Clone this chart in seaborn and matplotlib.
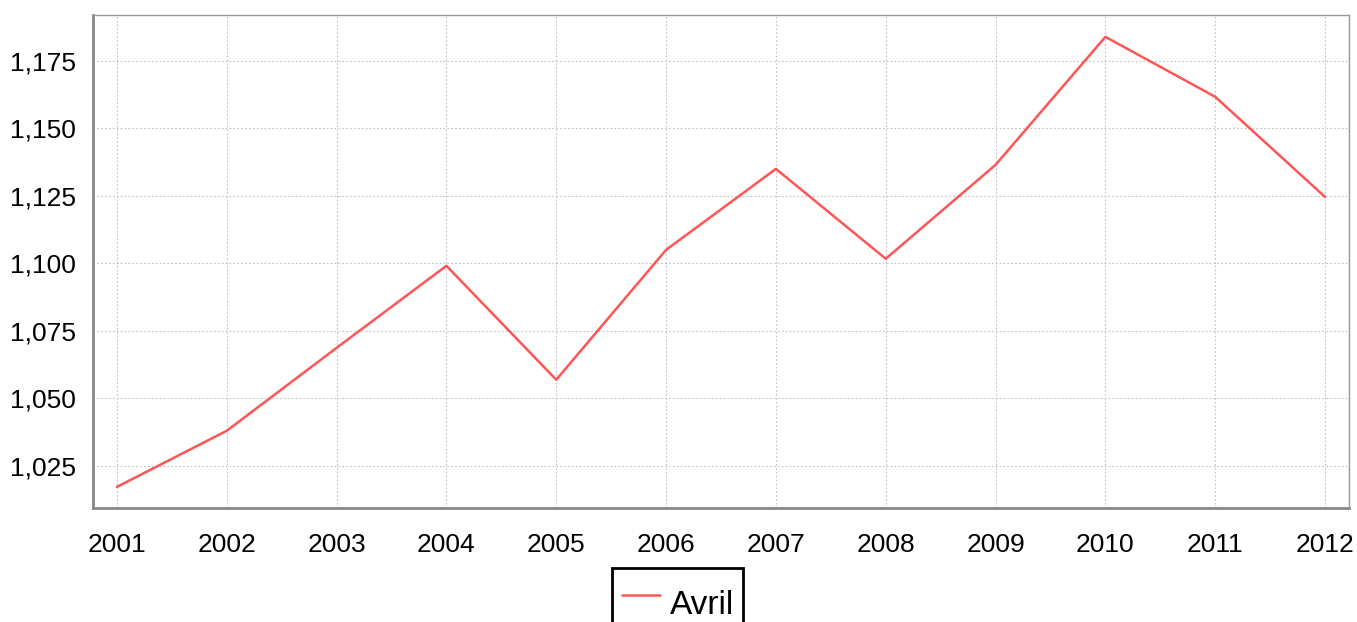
import matplotlib
matplotlib.use("Agg")
import pandas as pd
import seaborn as sns
import matplotlib.pyplot as plt
from matplotlib.ticker import FuncFormatter

# data
years = [2001, 2002, 2003, 2004, 2005, 2006, 2007, 2008, 2009, 2010, 2011, 2012]
avril = [1017.2, 1038.0, 1068.7, 1099.1, 1056.9, 1105.0, 1135.0, 1101.7, 1136.5, 1183.9, 1161.7, 1124.6]
y_ticks = [1025, 1050, 1075, 1100, 1125, 1150, 1175]

df = pd.DataFrame({"Year": years, "Avril": avril})

sns.set_style("white")
plt.rcParams["font.family"] = ["Liberation Sans", "DejaVu Sans"]

fig = plt.figure(figsize=(13.57, 6.22), dpi=100)
ax = fig.add_axes([0.0685, 0.1833, 0.9256, 0.7926])

sns.lineplot(data=df, x="Year", y="Avril", color="#ff5555", linewidth=1.8,
             ax=ax, label="Avril", legend=False)

ax.set_xlim(2001 - 0.218, 2012 + 0.218)
ax.set_ylim(1009.4, 1192.0)
ax.set_xticks(years)
ax.set_yticks(y_ticks)
ax.yaxis.set_major_formatter(FuncFormatter(lambda v, p: f"{int(v):,}"))
ax.set_xlabel("")
ax.set_ylabel("")

ax.grid(True, color="#c0c0c0", linestyle=(0, (1.5, 2)), linewidth=0.8)
ax.tick_params(axis="both", length=4, width=1.5, color="#888888",
               labelsize=19, labelcolor="black")
ax.tick_params(axis="x", pad=14)
ax.tick_params(axis="y", pad=8)

for side in ["left", "bottom"]:
    ax.spines[side].set_color("#888888")
    ax.spines[side].set_linewidth(2)
for side in ["top", "right"]:
    ax.spines[side].set_color("#999999")
    ax.spines[side].set_linewidth(1)

handles, labels = ax.get_legend_handles_labels()
leg = fig.legend(handles, labels, loc="upper center", bbox_to_anchor=(0.4995, 0.087),
                 fontsize=24, frameon=True, fancybox=False, framealpha=1,
                 handlelength=1.15, handleheight=2.0, handletextpad=0.3,
                 borderpad=0.28, borderaxespad=0, labelcolor="black")
leg.get_frame().set_edgecolor("black")
leg.get_frame().set_linewidth(2)

fig.savefig("out.png", dpi=100)
